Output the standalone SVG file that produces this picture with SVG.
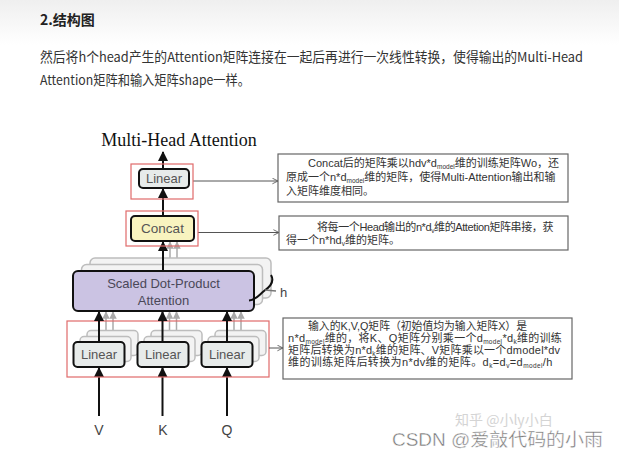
<svg xmlns="http://www.w3.org/2000/svg" width="619" height="458" viewBox="0 0 619 458">
<defs>
<linearGradient id="topbg" x1="0" y1="0" x2="0" y2="1">
<stop offset="0" stop-color="#efefef"/>
<stop offset="1" stop-color="#ffffff"/>
</linearGradient>
<marker id="ah" viewBox="0 0 10 10" refX="9" refY="5" markerWidth="5" markerHeight="5" orient="auto">
<path d="M0,0 L10,5 L0,10 z" fill="#111"/>
</marker>
<marker id="ahg" viewBox="0 0 10 10" refX="9" refY="5" markerWidth="5" markerHeight="5" orient="auto">
<path d="M0,0 L10,5 L0,10 z" fill="#aaa"/>
</marker>
<marker id="open" viewBox="0 0 10 10" refX="9" refY="5" markerWidth="7" markerHeight="7" orient="auto">
<path d="M1,1 L9,5 L1,9" fill="none" stroke="#555" stroke-width="1.2"/>
</marker>
<style>
.para{font-family:"Noto Sans CJK SC","Liberation Sans",sans-serif;font-size:13.5px;fill:#333}
.box{font-family:"Liberation Sans","Noto Sans CJK SC",sans-serif;font-size:13px;fill:#555;text-anchor:middle}
.note{font-family:"Liberation Sans","Noto Sans CJK SC",sans-serif;font-size:11px;fill:#333}
.sub{font-size:6.5px}
.red{fill:none;stroke:#e06a6a;stroke-width:1.2}
.lin{fill:#e7ebea;stroke:#111;stroke-width:2}
.shadow{fill:#f3f3f3;stroke:#bdbdbd;stroke-width:1.5}
.nbox{fill:#fff;stroke:#666;stroke-width:1.2}
.blk{stroke:#111;stroke-width:2;fill:none}
.gry{stroke:#aaa;stroke-width:1.5;fill:none}
.thin{stroke:#555;stroke-width:1;fill:none}
</style>
</defs>
<rect x="0" y="0" width="619" height="458" fill="#fff"/>
<rect x="0" y="0" width="619" height="45" fill="url(#topbg)"/>

<g id="header">
<text x="40" y="25" class="para" style="font-weight:bold;font-size:14px;fill:#222">2.结构图</text>
<text x="40" y="62" class="para" textLength="543" lengthAdjust="spacingAndGlyphs">然后将h个head产生的Attention矩阵连接在一起后再进行一次线性转换，使得输出的Multi-Head</text>
<text x="40" y="85" class="para" textLength="210" lengthAdjust="spacingAndGlyphs">Attention矩阵和输入矩阵shape一样。</text>
</g>

<g id="title">
<text x="179" y="146" text-anchor="middle" style="font-family:'Liberation Serif',serif;font-size:18px;fill:#111">Multi-Head Attention</text>
</g>

<g id="connectors">
<line x1="99" y1="416" x2="99" y2="368" class="blk" marker-end="url(#ah)"/>
<line x1="162.5" y1="416" x2="162.5" y2="368" class="blk" marker-end="url(#ah)"/>
<line x1="227" y1="416" x2="227" y2="368" class="blk" marker-end="url(#ah)"/>
<line x1="106" y1="336" x2="106" y2="312" class="gry" marker-end="url(#ahg)"/>
<line x1="113" y1="330" x2="113" y2="312" class="gry" marker-end="url(#ahg)"/>
<line x1="169.5" y1="336" x2="169.5" y2="312" class="gry" marker-end="url(#ahg)"/>
<line x1="176.5" y1="330" x2="176.5" y2="312" class="gry" marker-end="url(#ahg)"/>
<line x1="234" y1="336" x2="234" y2="312" class="gry" marker-end="url(#ahg)"/>
<line x1="241" y1="330" x2="241" y2="312" class="gry" marker-end="url(#ahg)"/>
<line x1="170" y1="265" x2="170" y2="242" class="gry" marker-end="url(#ahg)"/>
<line x1="177" y1="259" x2="177" y2="242" class="gry" marker-end="url(#ahg)"/>
</g>

<g id="scaled">
<rect x="90" y="258" width="181" height="40" rx="5" class="shadow"/>
<rect x="81.5" y="264.5" width="181" height="40" rx="5" class="shadow"/>
<rect x="73" y="271" width="181" height="40" rx="5" fill="#cbc3e3" stroke="#111" stroke-width="2"/>
<text x="163.5" y="288" class="box" style="fill:#4a4858">Scaled Dot-Product</text>
<text x="163.5" y="305" class="box" style="fill:#4a4858">Attention</text>
<path d="M271,275 C275,282 270,287 264,291 C259,295 256,300 249,300.5" class="blk" stroke-width="1.8"/>
<path d="M265,290 L276,291" stroke="#777" stroke-width="1.3" fill="none"/>
<text x="280" y="297" style="font-family:'Liberation Sans',sans-serif;font-size:13px;fill:#444">h</text>
</g>

<g id="linear-inputs">
<rect x="67" y="321" width="202" height="56" class="red"/>
<rect x="87" y="330.5" width="51" height="25" rx="4" class="shadow"/>
<rect x="80" y="336.5" width="51" height="25" rx="4" class="shadow"/>
<rect x="73.5" y="342" width="51" height="25" rx="4" class="lin"/>
<text x="99" y="359" class="box">Linear</text>
<rect x="151" y="330.5" width="51" height="25" rx="4" class="shadow"/>
<rect x="144" y="336.5" width="51" height="25" rx="4" class="shadow"/>
<rect x="137.5" y="342" width="51" height="25" rx="4" class="lin"/>
<text x="163" y="359" class="box">Linear</text>
<rect x="215" y="330.5" width="51" height="25" rx="4" class="shadow"/>
<rect x="208" y="336.5" width="51" height="25" rx="4" class="shadow"/>
<rect x="201.5" y="342" width="51" height="25" rx="4" class="lin"/>
<text x="227" y="359" class="box">Linear</text>
</g>

<g id="connectors-main">
<line x1="99" y1="342" x2="99" y2="312" class="blk" marker-end="url(#ah)"/>
<line x1="162.5" y1="342" x2="162.5" y2="312" class="blk" marker-end="url(#ah)"/>
<line x1="227" y1="342" x2="227" y2="312" class="blk" marker-end="url(#ah)"/>
<line x1="163" y1="271" x2="163" y2="242" class="blk" marker-end="url(#ah)"/>
<line x1="163" y1="216" x2="163" y2="189" class="blk" marker-end="url(#ah)"/>
<line x1="163" y1="169" x2="163" y2="152" class="blk" marker-end="url(#ah)"/>
<line x1="193" y1="181" x2="278" y2="181" class="thin" marker-end="url(#open)"/>
<line x1="198" y1="232.5" x2="279" y2="232.5" class="thin" marker-end="url(#open)"/>
<line x1="269" y1="348" x2="283" y2="348" class="thin" marker-end="url(#open)"/>
</g>

<g id="concat">
<rect x="126" y="211" width="72" height="35" class="red"/>
<rect x="131" y="216" width="63" height="25" rx="4" fill="#f8f3bf" stroke="#111" stroke-width="2"/>
<text x="162.5" y="233" class="box" style="font-size:13.5px">Concat</text>
</g>

<g id="linear-top">
<rect x="131" y="164" width="62" height="35" class="red"/>
<rect x="139" y="169" width="50" height="19" rx="4" class="lin"/>
<text x="164" y="183" class="box">Linear</text>
</g>

<g id="inputs">
<text x="99" y="435" class="box" style="font-size:14px;fill:#444">V</text>
<text x="163" y="435" class="box" style="font-size:14px;fill:#444">K</text>
<text x="227" y="435" class="box" style="font-size:14px;fill:#444">Q</text>
</g>

<g id="note-linear">
<rect x="278" y="154" width="290" height="48" class="nbox"/>
<text x="308" y="167" class="note">Concat后的矩阵乘以hdv*d<tspan class="sub" dy="1.5">model</tspan><tspan dy="-1.5">维的训练矩阵Wo，还</tspan></text>
<text x="286" y="181" class="note">原成一个n*d<tspan class="sub" dy="1.5">model</tspan><tspan dy="-1.5">维的矩阵，使得Multi-Attention输出和输</tspan></text>
<text x="286" y="194.5" class="note">入矩阵维度相同。</text>
</g>

<g id="note-concat">
<rect x="279" y="216" width="289" height="34" class="nbox"/>
<text x="317" y="231" class="note" style="letter-spacing:-0.4px">将每一个Head输出的n*d<tspan class="sub" dy="1.5">v</tspan><tspan dy="-1.5">维的Attetion矩阵串接，获</tspan></text>
<text x="286" y="244" class="note">得一个n*hd<tspan class="sub" dy="1.5">v</tspan><tspan dy="-1.5">维的矩阵。</tspan></text>
</g>

<g id="note-inputs">
<rect x="283" y="318" width="289" height="61" class="nbox"/>
<text x="308" y="330" class="note" textLength="219" lengthAdjust="spacingAndGlyphs">输入的K,V,Q矩阵（初始值均为输入矩阵X）是</text>
<text x="288" y="342" class="note" style="letter-spacing:0.3px">n*d<tspan class="sub" dy="1.5">model</tspan><tspan dy="-1.5">维的，将K、Q矩阵分别乘一个d</tspan><tspan class="sub" dy="1.5">model</tspan><tspan dy="-1.5">*d</tspan><tspan class="sub" dy="1.5">k</tspan><tspan dy="-1.5">维的训练</tspan></text>
<text x="288" y="354" class="note" style="letter-spacing:0.2px">矩阵后转换为n*d<tspan class="sub" dy="1.5">k</tspan><tspan dy="-1.5">维的矩阵、V矩阵乘以一个dmodel*dv</tspan></text>
<text x="288" y="366" class="note" style="letter-spacing:0.4px">维的训练矩阵后转换为n*dv维的矩阵。d<tspan class="sub" dy="1.5">k</tspan><tspan dy="-1.5">=d</tspan><tspan class="sub" dy="1.5">v</tspan><tspan dy="-1.5">=d</tspan><tspan class="sub" dy="1.5">model</tspan><tspan dy="-1.5">/h</tspan></text>
</g>

<g id="watermark">
<text x="455" y="425" style="font-family:'Noto Sans CJK SC',sans-serif;font-size:14px;fill:#d4d4d4">知乎 @小ly小白</text>
<text x="392" y="446" textLength="211" lengthAdjust="spacingAndGlyphs" style="font-family:'Liberation Sans','Noto Sans CJK SC',sans-serif;font-size:18px;fill:#777;stroke:#fff;stroke-width:0.4">CSDN @爱敲代码的小雨</text>
</g>
</svg>
